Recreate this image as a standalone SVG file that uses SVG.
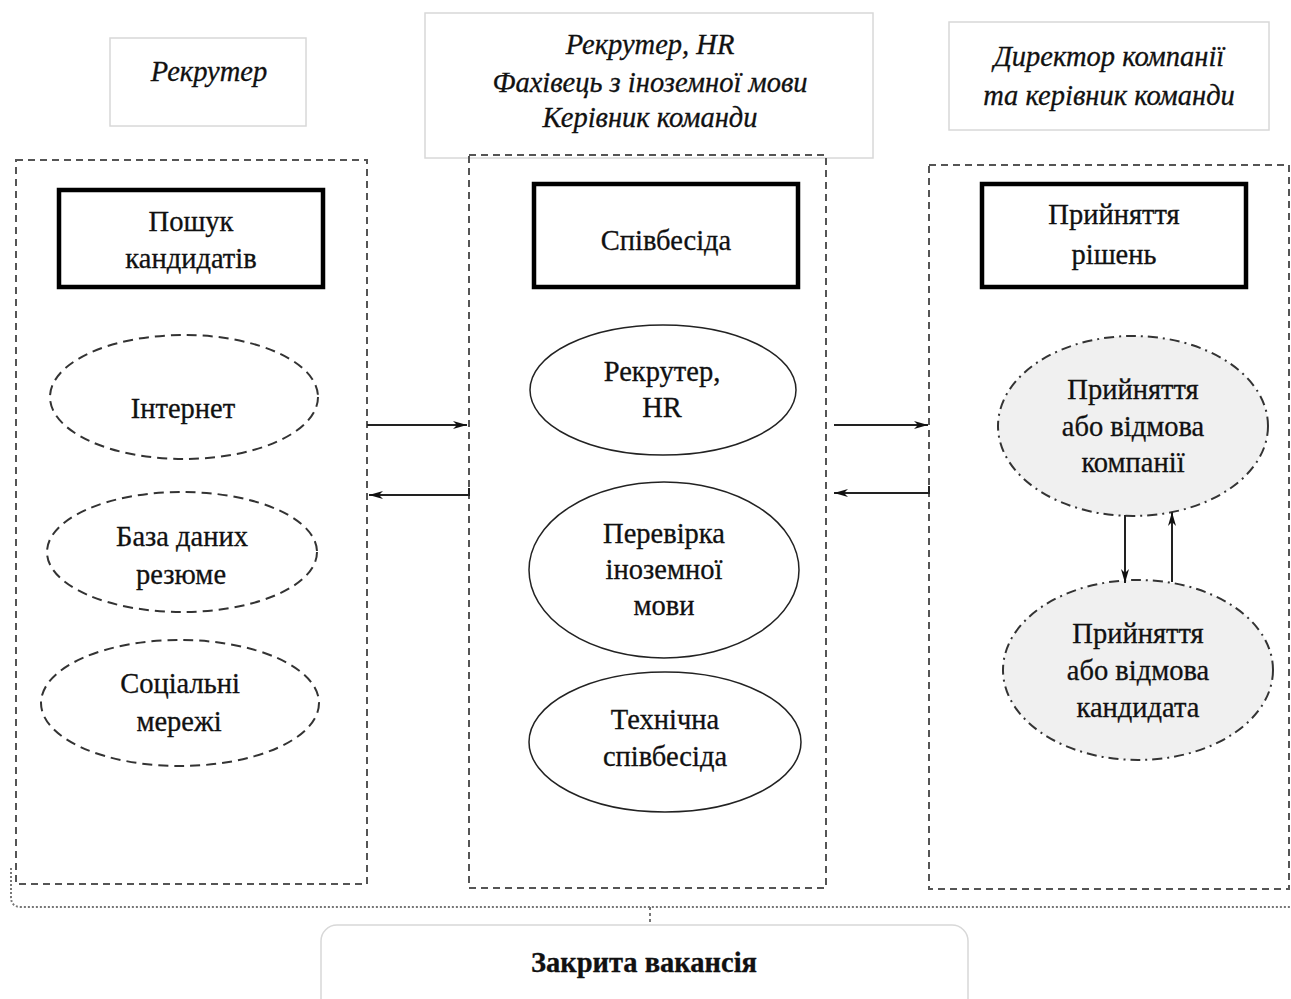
<svg xmlns="http://www.w3.org/2000/svg" width="1291" height="999" viewBox="0 0 1291 999">
<style>
text{font-family:"Liberation Serif","Times New Roman",serif;font-size:28.5px;fill:#111;stroke:#111;stroke-width:0.3;text-anchor:middle}
.it{font-style:italic}
.lbl{fill:#fff;stroke:#d8d8d8;stroke-width:1.5}
.cont{fill:none;stroke:#555;stroke-width:2;stroke-dasharray:7 5}
.thick{fill:#fff;stroke:#000;stroke-width:4.5}
.dash{fill:#fff;stroke:#333;stroke-width:2;stroke-dasharray:10 6}
.solid{fill:#fff;stroke:#222;stroke-width:1.5}
.dd{fill:#f0f0f0;stroke:#333;stroke-width:2;stroke-dasharray:10 5 2 5}
.conn{fill:none;stroke:#222;stroke-width:2}
</style>
<defs>
<marker id="ah" viewBox="0 0 14 8" refX="14" refY="4" markerWidth="14" markerHeight="8" markerUnits="userSpaceOnUse" orient="auto">
<path d="M0,0 L14,4 L0,8 L4,4 Z" fill="#111"/>
</marker>
</defs>
<rect width="1291" height="999" fill="#fff"/>

<g id="role-recruiter">
<rect class="lbl" x="110" y="38" width="196" height="88"/>
<text class="it" x="209" y="81">Рекрутер</text>
</g>
<g id="role-interview">
<rect class="lbl" x="425" y="13" width="448" height="145"/>
<text class="it" x="650" y="54">Рекрутер, HR</text>
<text class="it" x="650" y="92">Фахівець з іноземної мови</text>
<text class="it" x="650" y="127">Керівник команди</text>
</g>
<g id="role-director">
<rect class="lbl" x="949" y="22" width="320" height="108"/>
<text class="it" x="1109" y="66">Директор компанії</text>
<text class="it" x="1109" y="105">та керівник команди</text>
</g>

<g id="container-search">
<rect class="cont" x="16" y="160" width="351" height="724"/>
</g>
<g id="container-interview">
<rect class="cont" x="469" y="155" width="357" height="733"/>
</g>
<g id="container-decision">
<rect class="cont" x="929" y="165" width="360" height="724"/>
</g>

<g id="search">
<rect class="thick" x="59" y="190" width="264" height="97"/>
<text x="191" y="231">Пошук</text>
<text x="191" y="268">кандидатів</text>
</g>
<g id="interview">
<rect class="thick" x="534" y="184" width="264" height="103"/>
<text x="666" y="250">Співбесіда</text>
</g>
<g id="decision">
<rect class="thick" x="982" y="184" width="264" height="103"/>
<text x="1114" y="224">Прийняття</text>
<text x="1114" y="264">рішень</text>
</g>

<g id="internet">
<ellipse class="dash" cx="184" cy="397" rx="134" ry="62"/>
<text x="183" y="418">Інтернет</text>
</g>
<g id="resume-db">
<ellipse class="dash" cx="182" cy="552" rx="135" ry="60"/>
<text x="182" y="546">База даних</text>
<text x="181" y="584">резюме</text>
</g>
<g id="social">
<ellipse class="dash" cx="180" cy="703" rx="139" ry="63"/>
<text x="180" y="693">Соціальні</text>
<text x="179" y="731">мережі</text>
</g>

<g id="recruiter-hr">
<ellipse class="solid" cx="663" cy="390" rx="133" ry="65"/>
<text x="662" y="381">Рекрутер,</text>
<text x="662" y="417">HR</text>
</g>
<g id="language-check">
<ellipse class="solid" cx="664" cy="570" rx="135" ry="88"/>
<text x="664" y="543">Перевірка</text>
<text x="664" y="579">іноземної</text>
<text x="664" y="615">мови</text>
</g>
<g id="tech-interview">
<ellipse class="solid" cx="665" cy="742" rx="136" ry="70"/>
<text x="665" y="729">Технічна</text>
<text x="665" y="766">співбесіда</text>
</g>

<g id="company-decision">
<ellipse class="dd" cx="1133" cy="426" rx="135" ry="90"/>
<text x="1133" y="399">Прийняття</text>
<text x="1133" y="436">або відмова</text>
<text x="1133" y="472">компанії</text>
</g>
<g id="candidate-decision">
<ellipse class="dd" cx="1138" cy="670" rx="135" ry="90"/>
<text x="1138" y="643">Прийняття</text>
<text x="1138" y="680">або відмова</text>
<text x="1138" y="717">кандидата</text>
</g>

<g id="closed-vacancy">
<rect x="321" y="925" width="647" height="90" rx="16" fill="#fff" stroke="#d8d8d8" stroke-width="1.5"/>
<text x="644" y="972" font-weight="bold">Закрита вакансія</text>
</g>

<g id="connectors">
<path class="conn" d="M367,425 H467" marker-end="url(#ah)"/>
<path class="conn" d="M469,488 V495 H369" marker-end="url(#ah)"/>
<path class="conn" d="M834,425 H928" marker-end="url(#ah)"/>
<path class="conn" d="M929,486 V493 H834" marker-end="url(#ah)"/>
<path class="conn" d="M1125,515 V583" marker-end="url(#ah)"/>
<path class="conn" d="M1172,582 V512" marker-end="url(#ah)"/>
<path d="M11,868 V897 Q11,907 21,907 H1291" fill="none" stroke="#777" stroke-width="2" stroke-dasharray="2 2"/>
<path d="M650,907 V925" fill="none" stroke="#777" stroke-width="2" stroke-dasharray="3 3"/>
</g>
</svg>
